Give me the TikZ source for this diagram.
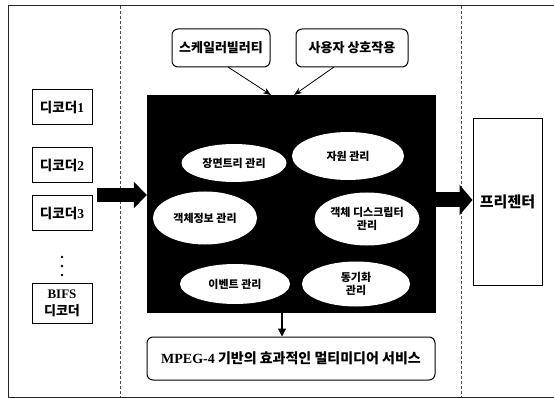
\documentclass[tikz,border=0pt]{standalone}
\usepackage{fontspec}
\setmainfont{Noto Sans CJK KR}
\newfontfamily\lat{Liberation Serif}
\usetikzlibrary{arrows.meta,shapes.geometric}
\begin{document}
\begin{tikzpicture}[x=1pt,y=-1pt,
  frameline/.style={line width=1pt,black!85},
  divider/.style={line width=0.8pt,black!70,densely dashed},
  decbox/.style={draw,line width=1pt,minimum width=60pt,minimum height=35pt,inner sep=1pt,align=center,font=\fontsize{13.5}{15}\selectfont\bfseries},
  topbox/.style={draw,line width=1pt,rounded corners=6pt,minimum height=38pt,inner sep=2pt,align=center,font=\fontsize{13}{15}\selectfont\bfseries},
  oval/.style={ellipse,fill=white,inner sep=0pt,align=center,font=\fontsize{11}{13}\selectfont\bfseries},
  dotmark/.style={circle,fill=black,inner sep=0pt,minimum size=2.6pt},
  thinarrow/.style={line width=0.8pt,-{Stealth[length=8pt,width=6pt]}},
  fatarrow/.style={line width=14pt,-{Triangle[length=13pt,width=26pt]}}]
\useasboundingbox (0,0) rectangle (554,398);
% frame
\draw[frameline] (554,6) -- (8,6) -- (8,397) -- (554,397);
\draw[divider] (120,6) -- (120,397);
\draw[divider] (461,6) -- (461,397);
% decoders
\node[decbox] (d1) at (62,107.5) {디코더{\lat 1}};
\node[decbox] (d2) at (62,165) {디코더{\lat 2}};
\node[decbox] (d3) at (62,213) {디코더{\lat 3}};
\node[decbox,minimum height=40pt,font=\fontsize{13}{17}\selectfont\bfseries] (d4) at (62,303) {{\lat BIFS}\\디코더};
\node[dotmark] (dot1) at (62,257) {};
\node[dotmark] (dot2) at (62,266) {};
\node[dotmark] (dot3) at (62,275) {};
% top boxes
\node[topbox,minimum width=98pt] (sc) at (221,48) {스케일러빌러티};
\node[topbox,minimum width=112pt] (ui) at (352,48) {사용자 상호작용};
% core
\node[fill=black,minimum width=289pt,minimum height=218pt,inner sep=0pt] (core) at (291.5,204) {};
\node[oval,minimum width=105pt,minimum height=38pt] (e1) at (234,163) {장면트리 관리};
\node[oval,minimum width=112pt,minimum height=48pt] (e2) at (348,156) {자원 관리};
\node[oval,minimum width=104pt,minimum height=53pt] (e3) at (205,218) {객체정보 관리};
\node[oval,minimum width=105pt,minimum height=53pt] (e4) at (367,219) {객체 디스크립터\\관리};
\node[oval,minimum width=110pt,minimum height=40pt] (e5) at (235,284) {이벤트 관리};
\node[oval,minimum width=108pt,minimum height=45pt] (e6) at (356,284) {동기화\\관리};
% presenter
\node[draw,line width=1pt,minimum width=69pt,minimum height=166pt,inner sep=1pt,font=\fontsize{15}{17}\selectfont\bfseries] (pr) at (507.5,202) {프리젠터};
% service box
\node[topbox,minimum width=288pt,minimum height=43pt,font=\fontsize{14}{16}\selectfont\bfseries] (svc) at (291,358.5) {{\lat MPEG-4} 기반의 효과적인 멀티미디어 서비스};
% connectors
\coordinate (scend) at (271,95);
\coordinate (uiend) at (294,95);
\draw[thinarrow] (228,67) -- (scend);
\draw[thinarrow] (334,67) -- (uiend);
\coordinate (din) at (97,195);
\draw[fatarrow] (din) -- (core.west |- din);
\draw[fatarrow,line width=15pt,-{Triangle[length=13pt,width=30pt]}] (core.east |- 0,200) -- (pr.west |- 0,200);
\draw[line width=1.2pt,-{Triangle[length=8pt,width=8pt]}] (core.south -| 282,0) -- (svc.north -| 282,0);
\end{tikzpicture}
\end{document}
